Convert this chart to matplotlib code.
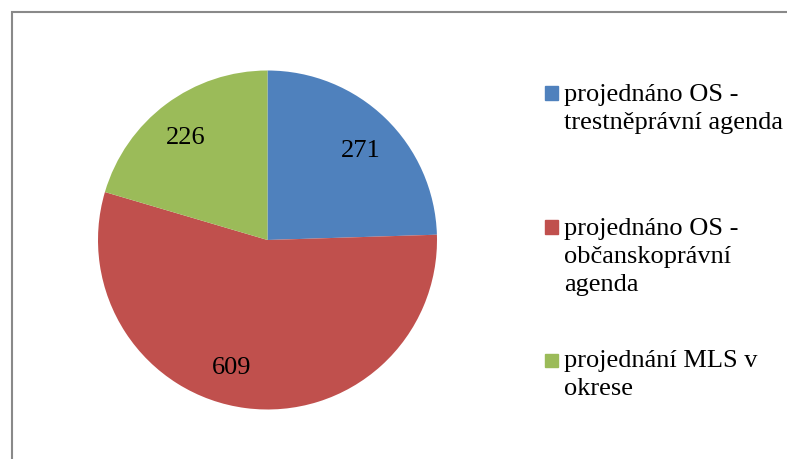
import matplotlib.pyplot as plt
from matplotlib.patches import Rectangle

# data
labels = ["projednáno OS -\ntrestněprávní agenda",
          "projednáno OS -\nobčanskoprávní\nagenda",
          "projednání MLS v\nokrese"]
values = [271, 609, 226]
colors = ["#4f81bd", "#c0504d", "#9bbb59"]

W, H = 787, 459
plt.rcParams["font.family"] = ["Liberation Serif", "DejaVu Serif"]

fig = plt.figure(figsize=(W / 100, H / 100), dpi=100)

# grey frame of the chart area (runs off the right and bottom edge)
fig.patches.append(Rectangle((12 / W, -0.1), 1.2, 1 - 12.5 / H + 0.1,
                             transform=fig.transFigure, fill=False,
                             edgecolor="#898989", lw=1.5))

# pie axes: centre (267.5, 240) px, radius 169 px
cx, cy, r = 267.5, 240, 169.5
ax = fig.add_axes([(cx - r) / W, 1 - (cy + r) / H, 2 * r / W, 2 * r / H])
wedges, texts = ax.pie(values, colors=colors, startangle=90, counterclock=False,
                       labels=[str(v) for v in values], labeldistance=0.76,
                       wedgeprops=dict(linewidth=0))
# data label placement as in the original (Excel puts them a bit off-centre)
label_pos = [(0.552, 0.525), (-0.209, -0.755), (-0.481, 0.602)]
for t, p in zip(texts, label_pos):
    t.set_position(p)
    t.set_ha("center")
    t.set_va("center")
    t.set_fontsize(19)
ax.set_xlim(-1, 1)
ax.set_ylim(-1, 1)
ax.set_aspect("auto")

# legend (square centre y, text top y) in pixels from top
legend_sq = [93, 227, 360]
legend_top = [84, 218, 350]
for lab, col, ys, yt in zip(labels, colors, legend_sq, legend_top):
    fig.patches.append(Rectangle((545 / W, 1 - (ys + 6.5) / H), 13 / W, 13 / H,
                                 transform=fig.transFigure, color=col))
    fig.text(564 / W, 1 - yt / H, lab, fontsize=19, va="top", ha="left",
             linespacing=1.36)

fig.savefig("out.png", dpi=100)
